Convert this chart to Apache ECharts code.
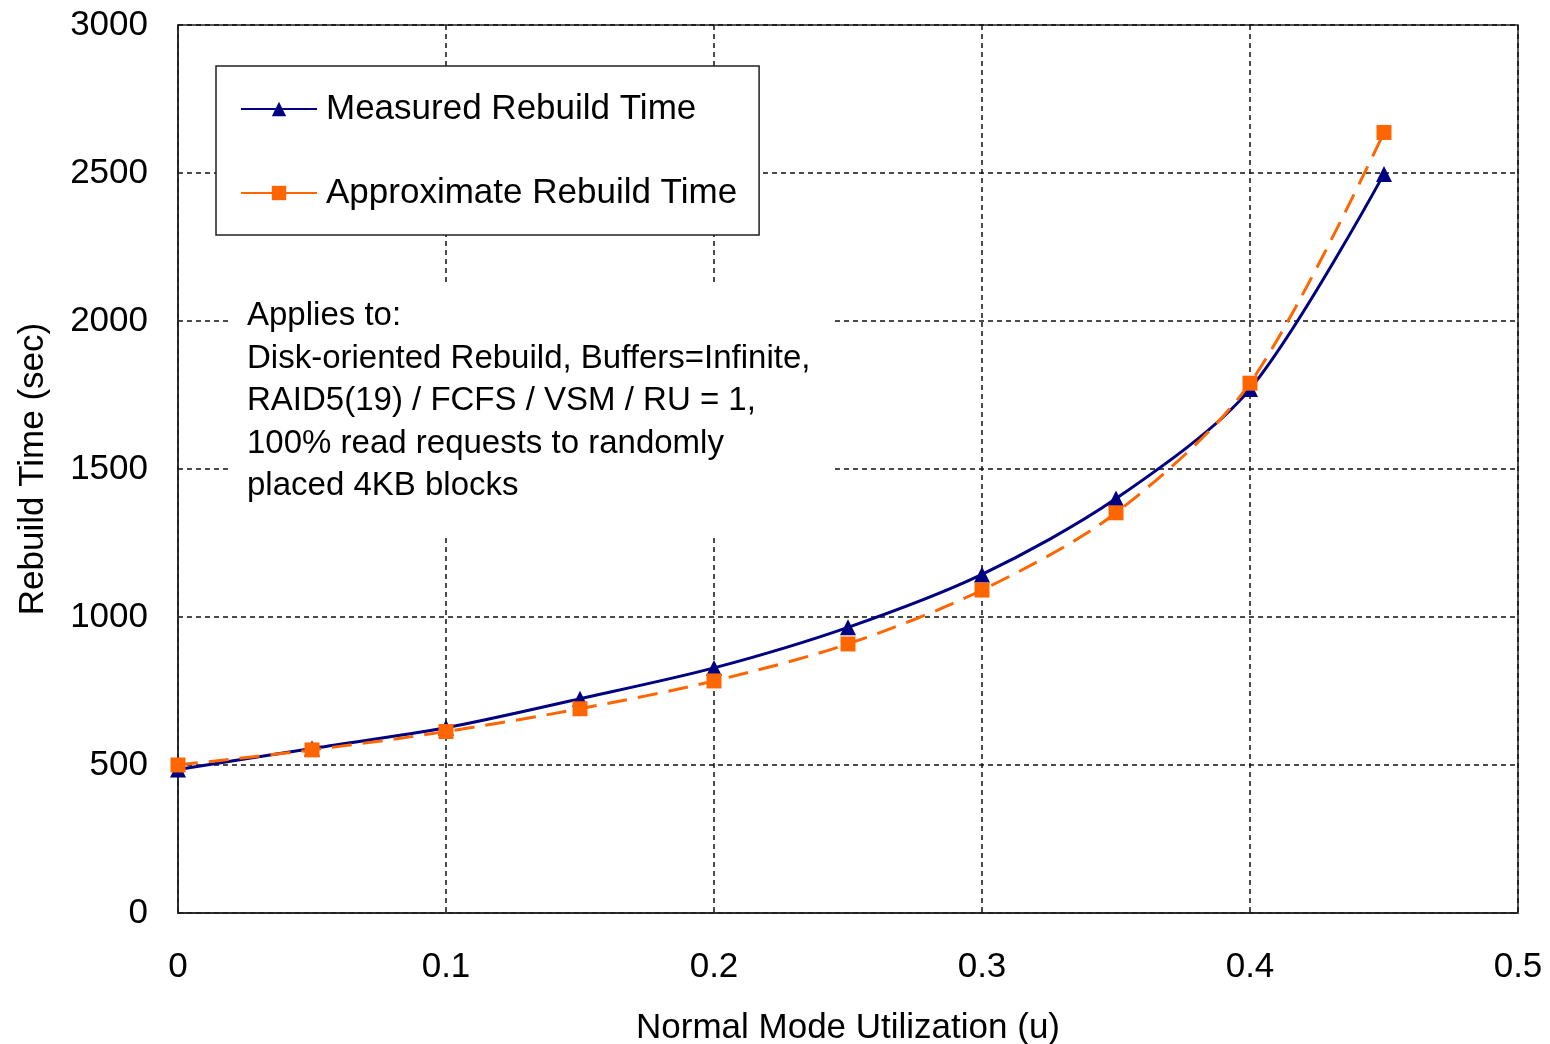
<!DOCTYPE html>
<html lang="en">
<head>
    <meta charset="UTF-8">
    <title>Rebuild Time</title>
    <script src="https://cdn.jsdelivr.net/npm/echarts@6/dist/echarts.min.js"></script>
    <style>
        html, body { margin: 0; padding: 0; background: #fff; }
        #chart { width: 1550px; height: 1044px; }
    </style>
</head>
<body>
<div id="chart"></div>
<script>
    // utilization values (x axis)
    var utilization = [0, 0.05, 0.1, 0.15, 0.2, 0.25, 0.3, 0.35, 0.4, 0.45];
    var measured = [485, 556, 626, 724, 828, 965, 1144, 1400, 1770, 2497];
    var approximate = [500, 551, 613, 690, 784, 909, 1091, 1352, 1790, 2637];
    var xTicks = [0, 0.1, 0.2, 0.3, 0.4, 0.5];
    var yTicks = [0, 500, 1000, 1500, 2000, 2500, 3000];
    var noteLines = [
        'Applies to:',
        'Disk-oriented Rebuild, Buffers=Infinite,',
        'RAID5(19) / FCFS / VSM / RU = 1,',
        '100% read requests to randomly',
        'placed 4KB blocks'
    ];

    function pairs(xs, ys) {
        var out = [];
        for (var i = 0; i < xs.length; i++) {
            out.push([xs[i], ys[i]]);
        }
        return out;
    }

    var font = 'Liberation Sans, Arial, sans-serif';
    var gridLine = { color: '#111', width: 1.5, type: [5, 4] };
    var myChart = echarts.init(document.getElementById('chart'));
    var option = {
        animation: false,
        grid: {
            left: 178, right: 32, top: 25, bottom: 131,
            containLabel: false,
            outerBoundsMode: 'none',
            show: true,
            borderColor: '#222',
            borderWidth: 1.5,
            backgroundColor: '#fff'
        },
        legend: {
            orient: 'vertical',
            left: 216,
            top: 66,
            padding: [23, 22, 22, 24],
            itemGap: 44,
            itemWidth: 76,
            itemHeight: 18,
            backgroundColor: '#fff',
            borderColor: '#222',
            borderWidth: 1.5,
            lineStyle: { type: 'solid' },
            textStyle: { fontFamily: font, fontSize: 35, lineHeight: 40, color: '#000', padding: [0, 0, 0, 4] },
            data: ['Measured Rebuild Time', 'Approximate Rebuild Time']
        },
        xAxis: {
            type: 'value',
            min: 0,
            max: 0.5,
            interval: 0.1,
            name: 'Normal Mode Utilization (u)',
            nameLocation: 'middle',
            nameGap: 98,
            nameTextStyle: { fontFamily: font, fontSize: 35, color: '#000' },
            axisLine: { show: true, lineStyle: { color: '#222', width: 1.5 } },
            axisTick: { show: false },
            axisLabel: {
                fontFamily: font, fontSize: 35, color: '#000', margin: 37,
                formatter: function (v) {
                    var r = Math.round(v * 10) / 10;
                    return xTicks.indexOf(r) >= 0 ? String(r) : '';
                }
            },
            splitLine: { show: true, lineStyle: gridLine }
        },
        yAxis: {
            type: 'value',
            min: 0,
            max: 3000,
            interval: 500,
            name: 'Rebuild Time (sec)',
            nameLocation: 'middle',
            nameGap: 127,
            nameTextStyle: { fontFamily: font, fontSize: 35, color: '#000' },
            axisLine: { show: true, lineStyle: { color: '#222', width: 1.5 } },
            axisTick: { show: false },
            axisLabel: {
                fontFamily: font, fontSize: 35, color: '#000', margin: 30,
                formatter: function (v) {
                    return yTicks.indexOf(v) >= 0 ? String(v) : '';
                }
            },
            splitLine: { show: true, lineStyle: gridLine }
        },
        graphic: [
            {
                type: 'rect',
                z: 50,
                shape: { x: 232, y: 286, width: 600, height: 248 },
                style: { fill: '#fff' }
            },
            {
                type: 'text',
                z: 51,
                left: 247,
                top: 295,
                style: {
                    text: noteLines.join('\n'),
                    font: '33px ' + font,
                    lineHeight: 42.5,
                    fill: '#000'
                }
            }
        ],
        series: [
            {
                name: 'Measured Rebuild Time',
                type: 'line',
                smooth: 0.3,
                symbol: 'triangle',
                symbolSize: 16,
                data: pairs(utilization, measured),
                lineStyle: { color: '#000080', width: 3 },
                itemStyle: { color: '#000080' },
                z: 3
            },
            {
                name: 'Approximate Rebuild Time',
                type: 'line',
                smooth: 0.3,
                symbol: 'rect',
                symbolSize: 15,
                data: pairs(utilization, approximate),
                lineStyle: { color: '#FF6600', width: 3, type: [20, 11] },
                itemStyle: { color: '#FF6600' },
                z: 4
            }
        ]
    };
    myChart.setOption(option);
</script>
</body>
</html>
